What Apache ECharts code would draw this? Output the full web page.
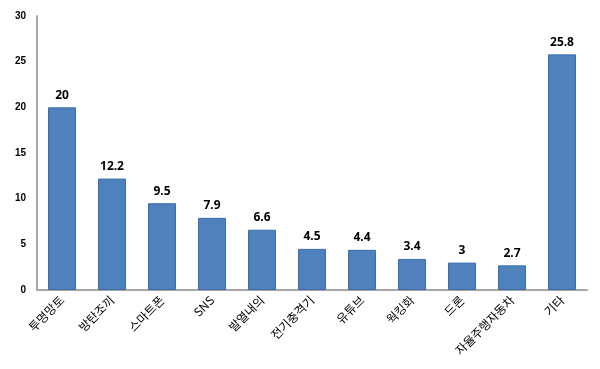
<!DOCTYPE html>
<html><head><meta charset="utf-8">
<script src="https://cdn.jsdelivr.net/npm/echarts@6/dist/echarts.min.js"></script>
<style>html,body{margin:0;padding:0;background:#fff}#c{width:600px;height:369px}</style>
</head><body><div id="c"></div>
<script>
const categories = ['투명망토','방탄조끼','스마트폰','SNS','발열내의','전기충격기','유튜브','웍킹화','드론','자율주행자동차','기타'];
const values = [20, 12.2, 9.5, 7.9, 6.6, 4.5, 4.4, 3.4, 3, 2.7, 25.8];
const yTicks = {min: 0, max: 30, interval: 5};

const chart = echarts.init(document.getElementById('c'));
chart.setOption({
  animation: false,
  grid: {left: 37, right: 13, top: 16, bottom: 79},
  xAxis: {
    type: 'category', data: categories,
    axisLine: {lineStyle: {color: '#a6a6a6', width: 2}},
    axisTick: {show: false},
    axisLabel: {rotate: 45, interval: 0, color: '#000', fontSize: 12, fontFamily: 'Noto Sans CJK KR', margin: 8}
  },
  yAxis: {
    type: 'value', min: yTicks.min, max: yTicks.max, interval: yTicks.interval,
    axisLine: {show: true, lineStyle: {color: '#a6a6a6', width: 2}},
    axisTick: {show: false},
    splitLine: {show: false},
    axisLabel: {color: '#000', fontSize: 10, fontWeight: 'bold', fontFamily: 'Arial, Liberation Sans', margin: 11}
  },
  series: [{
    type: 'bar', data: values, barWidth: '56%',
    itemStyle: {color: '#4F81BD', borderColor: '#3C6DA8', borderWidth: 1},
    label: {show: true, position: 'top', distance: 6, color: '#000', fontSize: 12, fontWeight: 'bold', fontFamily: 'Noto Sans, Liberation Sans'}
  }]
});
</script></body></html>
